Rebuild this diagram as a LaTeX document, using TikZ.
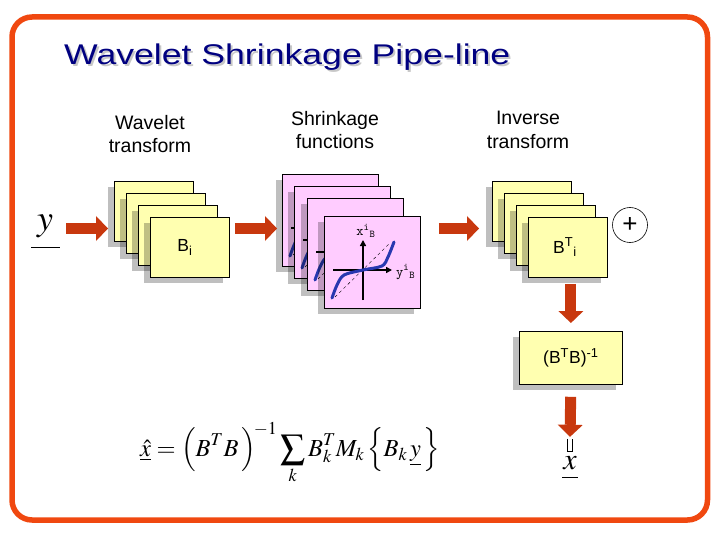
\documentclass[tikz,border=0pt]{standalone}
\usepackage{mathptmx}
\usepackage{fontspec}
\setmainfont{Liberation Sans}
\newfontfamily\titlefont[FakeStretch=1.25]{Liberation Sans}
\usetikzlibrary{shadows,arrows.meta,calc}

\definecolor{framered}{RGB}{240,72,16}
\definecolor{arrowred}{RGB}{200,56,14}
\definecolor{cardyellow}{RGB}{255,255,176}
\definecolor{cardpink}{RGB}{255,204,255}
\definecolor{curveblue}{RGB}{40,56,176}
\definecolor{titleblue}{RGB}{0,0,128}

\tikzset{
  card/.style={draw=black, line width=0.8pt, inner sep=0pt, anchor=north west,
    drop shadow={shadow xshift=-6pt, shadow yshift=-6pt, fill=black, opacity=0.25}},
  yellowcard/.style={card, fill=cardyellow, minimum width=79pt, minimum height=60pt},
  pinkcard/.style={card, fill=cardpink, minimum width=96pt, minimum height=92pt},
  fatarrow/.style={arrowred, line width=11pt, -{Triangle[length=12pt, width=25pt, line width=0pt]}},
  heading/.style={align=center, font=\fontsize{19.5}{23.5}\selectfont},
  cardlabel/.style={font=\fontsize{17.5}{20}\selectfont, inner sep=0pt},
  axislabel/.style={font=\ttfamily\fontsize{14}{16}\selectfont, inner sep=0pt},
  axisline/.style={line width=1.6pt, -{Triangle[length=6pt, width=6pt]}}
}

\begin{document}
\begin{tikzpicture}[x=1pt, y=-1pt]
\useasboundingbox (0,0) rectangle (720,540);
\draw[framered, line width=5.5pt, rounded corners=20pt] (12,17) rectangle (707.5,520);

% title and headings
\node[anchor=base west, inner sep=0pt, text=black!22, font=\titlefont\fontsize{28.5}{32}\selectfont] (titleshadow) at (66,67) {Wavelet Shrinkage Pipe-line};
\node[anchor=base west, inner sep=0pt, text=titleblue, font=\titlefont\fontsize{28.5}{32}\selectfont] (title) at (64,65) {Wavelet Shrinkage Pipe-line};
\node[heading] (wthead) at (150,134) {Wavelet\\transform};
\node[heading] (sfhead) at (335,130) {Shrinkage\\ functions};
\node[heading] (ithead) at (528,130) {Inverse\\transform};

% wavelet transform
\foreach \i in {0,...,3}
  \node[yellowcard] (wt\i) at (114+12*\i, 181+12*\i) {};
\node[cardlabel] (wtlabel) at ($(wt3.center)+(-5,0)$) {B\textsubscript{i}};

% shrinkage functions
\foreach \i/\px/\py in {0/282/174, 1/294/186, 2/307/198, 3/324/216}{
  \node[pinkcard] (sf\i) at (\px,\py) {};
  \begin{scope}[shift={(sf\i.north west)}]
    \draw[thin, dashed] (11,81) -- (66,27);
    \draw[axisline] (39,84) -- (39,24);
    \draw[axisline] (9,54) -- (68,54);
    \draw[curveblue, line width=3pt, line cap=round] plot[smooth] coordinates
      {(8,82) (13,69) (20,59) (39,54) (58,50) (64,41) (70,26)};
  \end{scope}
}
\node[axislabel] (xlab) at ($(sf3.north west)+(42,15)$) {x\textsuperscript{i}\textsubscript{B}};
\node[axislabel, anchor=west] (ylab) at ($(sf3.north west)+(72,56)$) {y\textsuperscript{i}\textsubscript{B}};

% inverse transform
\foreach \i in {0,...,3}
  \node[yellowcard] (it\i) at (492+12*\i, 181+12*\i) {};
\node[cardlabel] (itlabel) at ($(it3.center)+(-3,0)$) {B\textsuperscript{T}\textsubscript{i}};
\node[circle, draw, line width=0.6pt, minimum size=35pt, inner sep=0pt, font=\fontsize{26}{26}\selectfont] (plus) at (630,225) {+};

\node[yellowcard, cardlabel, minimum width=103pt, minimum height=53pt] (inv) at (519,331) {(B\textsuperscript{T}B)\textsuperscript{-1}};

% input and output
\node[inner sep=0pt, minimum width=30pt, font=\fontsize{36}{36}\selectfont] (ylabel) at (45,226) {$y$};
\draw[line width=1pt] (31,247) -- (60,247);
\node[inner sep=0pt, minimum width=5pt, minimum height=12pt] (cup) at (570,445) {};
\draw[line width=1.3pt] (cup.north west) -- (cup.south west) -- (cup.south east) -- (cup.north east);
\node[inner sep=0pt, font=\fontsize{30}{30}\selectfont] (xlabel) at (570,463) {$x$};
\draw[line width=1pt] (562,477) -- (578,477);

% arrows
\draw[fatarrow, shorten <=6pt, shorten >=6pt] (ylabel.east |- 0,228.5) -- (wt0.west |- 0,228.5);
\draw[fatarrow, shorten <=5pt, shorten >=5pt] (wt3.east |- 0,228.5) -- (sf0.west |- 0,228.5);
\draw[fatarrow, shorten <=18pt, shorten >=13pt] (sf3.east |- 0,228.5) -- (it0.west |- 0,228.5);
\draw[fatarrow, shorten <=6pt, shorten >=8pt] (inv.north |- it3.south) -- (inv.north);
\draw[fatarrow, shorten <=12pt, shorten >=2pt] (inv.south) -- (cup.north);

% formula
\node[anchor=base west, inner sep=0pt, font=\fontsize{24.5}{28}\selectfont] (formula) at (140,456)
  {$\displaystyle \underline{\hat{x}} = \Bigl(B^{T} B\,\Bigr)^{\!-1} \sum_{k} B_k^{T} M_k\, \Bigl\{B_k\, \underline{y}\,\Bigr\}$};
\end{tikzpicture}
\end{document}
